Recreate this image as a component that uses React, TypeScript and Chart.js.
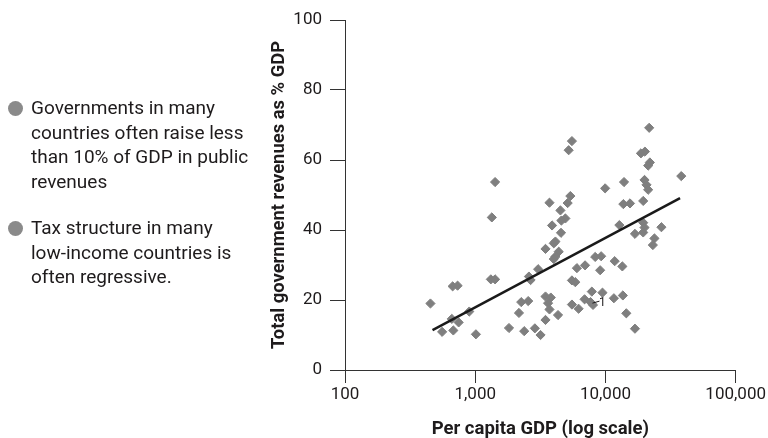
import React, { useEffect, useRef } from "react";
import { Chart, registerables } from "chart.js";

Chart.register(...registerables);

// ---- Data ----
const gdpPerCapita = [
  453, 557, 679, 671, 732, 661, 746, 900, 1012, 1318, 1421, 1817, 2256, 2552, 2167,
  2378, 2871, 3174, 2584, 2662, 3042, 3465, 3804, 3626, 3717, 3465, 4324, 5529, 5871,
  5529, 6221, 6914, 7860, 7683, 9487, 8029, 11611, 13604, 14463, 16852, 6037, 6975,
  8344, 9272, 9109, 11776, 13486, 4377, 4130, 4010, 3465, 4130, 4010, 4557, 3891, 4924,
  4589, 4510, 5376, 5127, 3717, 1421, 1341, 5529, 5219, 9947, 13891, 13723, 15434,
  19502, 19953, 20670, 21291, 18728, 20095, 21935, 21291, 21670, 38220, 12791, 19502,
  19953, 16852, 19502, 26907, 23780, 23124,
];
const revenueShare = [
  19.0, 10.9, 11.3, 23.9, 24.1, 14.6, 13.6, 16.7, 10.2, 25.9, 25.9, 12.0, 19.4, 19.7, 16.3,
  11.1, 11.9, 10.0, 26.7, 25.7, 28.8, 21.0, 20.7, 19.1, 17.3, 14.3, 15.7, 25.6, 25.1,
  18.7, 17.5, 20.2, 22.4, 19.4, 22.1, 18.6, 20.5, 21.3, 16.2, 11.8, 29.1, 29.9,
  32.3, 32.5, 28.5, 31.1, 29.6, 33.8, 32.4, 31.7, 34.6, 36.7, 36.2, 39.2, 41.3, 43.3,
  42.7, 45.6, 49.7, 47.7, 47.8, 53.7, 43.6, 65.4, 62.8, 51.9, 53.7, 47.4, 47.6,
  48.3, 54.3, 52.9, 51.5, 61.9, 62.4, 59.3, 58.4, 69.2, 55.4, 41.4, 42.1,
  40.7, 38.9, 39.3, 40.8, 37.6, 35.7,
];
const trendGdp = [470, 37400];
const trendRevenue = [11.4, 49.1];
const xTickValues = [100, 1000, 10000, 100000];
const yTickStep = 20;
const annotationGdp = [9487];
const annotationRevenue = [19.1];
const annotationText = ["1"];

const bulletLines = [
  ["Governments in many", "countries often raise less", "than 10% of GDP in public", "revenues"],
  ["Tax structure in many", "low-income countries is", "often regressive."],
];

const FONT = "Roboto, 'Liberation Sans', Arial, sans-serif";
const TEXT = "#1e1b1c";

export default function App() {
  const ref = useRef<HTMLCanvasElement | null>(null);

  useEffect(() => {
    if (!ref.current) return;
    const annotationPlugin = {
      id: "pointNote",
      afterDatasetsDraw(chart: any) {
        const { ctx, scales } = chart;
        ctx.save();
        ctx.fillStyle = TEXT;
        ctx.strokeStyle = TEXT;
        ctx.lineWidth = 1;
        ctx.font = `12px ${FONT}`;
        ctx.textAlign = "center";
        ctx.textBaseline = "middle";
        annotationText.forEach((t, i) => {
          const px = scales.x.getPixelForValue(annotationGdp[i]);
          const py = scales.y.getPixelForValue(annotationRevenue[i]);
          ctx.beginPath();
          ctx.moveTo(px - 10, py);
          ctx.lineTo(px - 3, py - 2);
          ctx.stroke();
          ctx.fillText(t, px, py);
        });
        ctx.restore();
      },
    };

    const chart = new Chart(ref.current, {
      type: "scatter",
      data: {
        datasets: [
          {
            type: "line",
            label: "Trend",
            data: trendGdp.map((x, i) => ({ x, y: trendRevenue[i] })),
            borderColor: "#1a1a1a",
            borderWidth: 2.5,
            pointRadius: 0,
            showLine: true,
            fill: false,
            order: 0,
          } as any,
          {
            label: "Countries",
            data: gdpPerCapita.map((x, i) => ({ x, y: revenueShare[i] })),
            pointStyle: "rectRot",
            pointRadius: 4.6,
            backgroundColor: "#7f7f7f",
            borderColor: "#7f7f7f",
            borderWidth: 1,
            order: 1,
          },
        ],
      },
      options: {
        animation: false,
        responsive: false,
        maintainAspectRatio: false,
        layout: { padding: { left: 0, right: 31, top: 20, bottom: 0 } },
        plugins: {
          legend: { display: false },
          tooltip: { enabled: false },
        },
        scales: {
          x: {
            type: "logarithmic",
            min: 100,
            max: 100000,
            afterBuildTicks: (scale: any) => {
              scale.ticks = xTickValues.map((v) => ({ value: v }));
            },
            afterFit: (scale: any) => {
              scale.height = 70;
            },
            grid: {
              drawOnChartArea: false,
              drawTicks: true,
              tickLength: 13,
              color: "#333",
              lineWidth: 1,
            },
            border: { display: true, color: "#333", width: 1 },
            ticks: {
              autoSkip: false,
              maxRotation: 0,
              padding: 2,
              color: TEXT,
              font: { family: FONT, size: 17 },
              callback: (v: any) => Number(v).toLocaleString("en-US"),
            },
            title: {
              display: true,
              text: "Per capita GDP (log scale)",
              color: TEXT,
              font: { family: FONT, size: 18.5, weight: "bold" },
              padding: { top: 0, bottom: 0 },
            },
          },
          y: {
            min: 0,
            max: 100,
            afterFit: (scale: any) => {
              scale.width = 345;
            },
            grid: {
              drawOnChartArea: false,
              drawTicks: true,
              tickLength: 15,
              color: "#333",
              lineWidth: 1,
            },
            border: { display: true, color: "#333", width: 1 },
            ticks: {
              stepSize: yTickStep,
              padding: 8,
              color: TEXT,
              font: { family: FONT, size: 17 },
            },
            title: {
              display: true,
              text: "Total government revenues as % GDP",
              color: TEXT,
              font: { family: FONT, size: 18.4, weight: "bold" },
              padding: { top: 268.5, bottom: 0 },
            },
          },
        },
      },
      plugins: [annotationPlugin],
    });
    return () => chart.destroy();
  }, []);

  return (
    <div style={{ position: "fixed", left: 0, top: 0, width: 768, height: 440 }}>
      <canvas ref={ref} width={768} height={440} style={{ position: "absolute", left: 0, top: 0 }} />
      {bulletLines.map((lines, i) => (
        <div
          key={i}
          style={{
            position: "absolute",
            left: 31,
            top: i === 0 ? 96 : 216,
            fontFamily: FONT,
            fontSize: 19,
            lineHeight: "24.6px",
            color: TEXT,
            whiteSpace: "nowrap",
          }}
        >
          <span
            style={{
              position: "absolute",
              left: -23.5,
              top: 4.5,
              width: 15,
              height: 15,
              borderRadius: "50%",
              background: "#8a8a8a",
            }}
          />
          {lines.map((l, j) => (
            <div key={j}>{l}</div>
          ))}
        </div>
      ))}
    </div>
  );
}
